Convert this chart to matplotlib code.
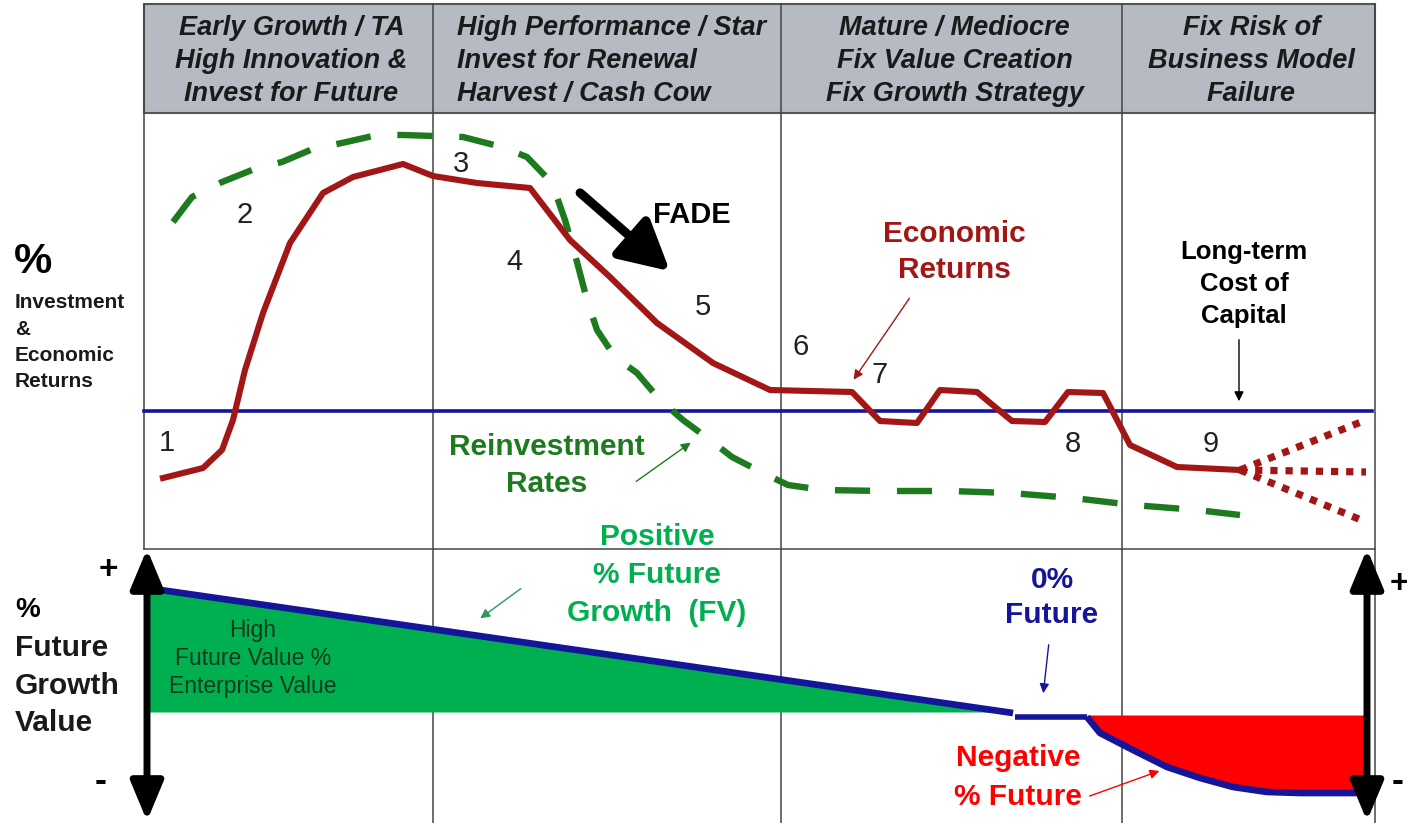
"""
Life-cycle chart: economic returns vs reinvestment rates and % future growth value.
Recreated as a schematic in image-like coordinates (x to the right, y downward).
"""

import numpy as np
import matplotlib

matplotlib.use("Agg")
import matplotlib.pyplot as plt
from matplotlib.patches import Rectangle

plt.rcParams["font.family"] = ["Liberation Sans", "DejaVu Sans"]

# ── data ────────────────────────────────────────────────────────────
stage_titles = [
    ["Early Growth / TA", "High Innovation &", "Invest for Future"],
    ["High Performance / Star", "Invest for Renewal", "Harvest / Cash Cow"],
    ["Mature / Mediocre", "Fix Value Creation", "Fix Growth Strategy"],
    ["Fix Risk of", "Business Model", "Failure"],
]
stage_edges = [144, 433, 781, 1122, 1375]

cost_of_capital = 411

econ_x = [163, 203, 222, 233, 245, 263, 290, 323, 353, 403, 433, 477, 530, 570,
          610, 657, 713, 770, 852, 880, 917, 940, 977, 1012, 1045, 1068, 1103,
          1130, 1177, 1240]
econ_y = [478, 468, 450, 420, 370, 313, 243, 193, 177, 164, 176, 183, 188, 240,
          277, 323, 363, 390, 392, 421, 423, 390, 392, 421, 422, 392, 393,
          445, 467, 470]

# three possible futures after point 9
fan_x = [1240, 1366]
fan_y_up = [470, 420]
fan_y_mid = [470, 472]
fan_y_down = [470, 522]

reinv_x = [173, 192, 222, 257, 282, 315, 342, 377, 403, 433, 463, 502, 527, 552,
           565, 577, 587, 597, 615, 637, 660, 683, 710, 732, 763, 788, 823, 885,
           950, 1010, 1073, 1133, 1197, 1240]
reinv_y = [222, 197, 182, 168, 162, 148, 143, 135, 135, 136, 137, 147, 157, 183,
           220, 262, 300, 330, 357, 373, 400, 420, 440, 457, 473, 485, 490, 491,
           491, 493, 498, 505, 510, 515]

stage_numbers = ["1", "2", "3", "4", "5", "6", "7", "8", "9"]
number_x = [167, 245, 461, 514, 703, 801, 880, 1073, 1211]
number_y = [443, 215, 164, 262, 307, 347, 375, 444, 444]

fv_x = [147, 1013, 1015, 1087, 1100, 1133, 1167, 1200, 1233, 1267, 1300, 1365]
fv_y = [588, 713, 717, 717, 733, 750, 767, 778, 787, 792, 793, 793]
fv_zero = 712
neg_top = 715

# ── colours ─────────────────────────────────────────────────────────
HEADER_BG = "#b6bac2"
RED = "#a31616"
GREEN_DARK = "#1e7a1e"
GREEN = "#00b050"
NAVY = "#15159a"
BRIGHT_RED = "#ff0000"

fig = plt.figure(figsize=(14.07, 8.23), dpi=100)
ax = fig.add_axes([0, 0, 1, 1])
ax.set_xlim(0, 1407)
ax.set_ylim(823, 0)
ax.axis("off")

# ── header and grid ─────────────────────────────────────────────────
left, right = stage_edges[0], stage_edges[-1]
ax.add_patch(Rectangle((left, 4), right - left, 109, facecolor=HEADER_BG,
                       edgecolor="#555555", lw=1.5, zorder=1))
for i, lines in enumerate(stage_titles):
    if i == 1:
        xc, ha = 457, "left"
    else:
        xc, ha = (stage_edges[i] + stage_edges[i + 1]) / 2 + 3, "center"
    for j, line in enumerate(lines):
        ax.text(xc, 28 + 33 * j, line, ha=ha, va="center", fontsize=19.5,
                fontweight="bold", fontstyle="italic", color="#1a1a1a", zorder=3)

for xe in stage_edges[1:-1]:
    ax.plot([xe, xe], [4, 823], color="#444444", lw=1.1, zorder=2)
ax.plot([right, right], [4, 823], color="#444444", lw=1.1, zorder=2)
ax.plot([left, left], [4, 549], color="#444444", lw=1.1, zorder=2)
ax.plot([left, right], [549, 549], color="#444444", lw=1.1, zorder=2)

# ── top panel ───────────────────────────────────────────────────────
ax.plot([left, 1372], [cost_of_capital, cost_of_capital], color=NAVY, lw=2.6, zorder=4)

ax.plot(reinv_x, reinv_y, color=GREEN_DARK, lw=4.6, linestyle=(0, (5.5, 4.2)),
        dash_capstyle="butt", zorder=5)
ax.plot(econ_x, econ_y, color=RED, lw=4.4, solid_joinstyle="round", zorder=6)
for fy in (fan_y_up, fan_y_mid, fan_y_down):
    ax.plot(fan_x, fy, color=RED, lw=5.2, linestyle=(0, (1, 1.1)),
            dash_capstyle="butt", zorder=6)

for s, xn, yn in zip(stage_numbers, number_x, number_y):
    ax.text(xn, yn, s, ha="center", va="center", fontsize=21, color="#222222", zorder=7)

ax.text(692, 215, "FADE", ha="center", va="center", fontsize=21,
        fontweight="bold", color="black", zorder=7)
ax.annotate("", xy=(672, 273), xytext=(578, 191),
            arrowprops=dict(arrowstyle="-|>,head_length=1.5,head_width=0.8",
                            lw=6.5, color="black", mutation_scale=20), zorder=7)

ax.text(954, 234, "Economic", ha="center", va="center", fontsize=21.5,
        fontweight="bold", color=RED, zorder=7)
ax.text(954, 270, "Returns", ha="center", va="center", fontsize=21.5,
        fontweight="bold", color=RED, zorder=7)
ax.annotate("", xy=(852, 382), xytext=(911, 296),
            arrowprops=dict(arrowstyle="-|>", lw=1.0, color=RED,
                            mutation_scale=14), zorder=7)

for j, line in enumerate(["Long-term", "Cost of", "Capital"]):
    ax.text(1244, 252 + 32 * j, line, ha="center", va="center", fontsize=18.5,
            fontweight="bold", color="black", zorder=7)
ax.annotate("", xy=(1239, 404), xytext=(1239, 337),
            arrowprops=dict(arrowstyle="-|>", lw=1.0, color="black",
                            mutation_scale=14), zorder=7)

ax.text(547, 447, "Reinvestment", ha="center", va="center", fontsize=21.5,
        fontweight="bold", color=GREEN_DARK, zorder=7)
ax.text(547, 484, "Rates", ha="center", va="center", fontsize=21.5,
        fontweight="bold", color=GREEN_DARK, zorder=7)
ax.annotate("", xy=(693, 441), xytext=(634, 483),
            arrowprops=dict(arrowstyle="-|>", lw=1.0, color=GREEN_DARK,
                            mutation_scale=14), zorder=7)

# left axis labels (top)
ax.text(14, 262, "%", ha="left", va="center", fontsize=31, fontweight="bold", zorder=7)
for j, line in enumerate(["Investment", "&", "Economic", "Returns"]):
    ax.text(15, 303 + 26 * j, line, ha="left", va="center", fontsize=15,
            fontweight="bold", color="#1a1a1a", zorder=7)

# ── bottom panel ────────────────────────────────────────────────────
fx = np.array(fv_x[:2], dtype=float)
fy = np.array(fv_y[:2], dtype=float)
x_cross = np.interp(fv_zero, fy, fx)
gx = np.linspace(fx[0], x_cross, 50)
gy = np.interp(gx, fx, fy)
ax.fill_between(gx, gy, fv_zero, color=GREEN, lw=0, zorder=3)

nx = np.array(fv_x[3:], dtype=float)
ny = np.array(fv_y[3:], dtype=float)
ax.fill_between(nx, neg_top, ny, color=BRIGHT_RED, lw=0, zorder=3)

ax.plot(fv_x[:2], fv_y[:2], color=NAVY, lw=4.8, solid_capstyle="butt", zorder=4)
ax.plot(fv_x[2:4], fv_y[2:4], color=NAVY, lw=4.0, solid_capstyle="butt", zorder=4)
ax.plot(fv_x[3:], fv_y[3:], color=NAVY, lw=4.8, solid_capstyle="butt", zorder=4)

for xa in (147, 1367):
    ax.annotate("", xy=(xa, 549), xytext=(xa, 821),
                arrowprops=dict(arrowstyle="<|-|>,head_length=1.2,head_width=0.5",
                                lw=5, color="black", mutation_scale=20,
                                shrinkA=0, shrinkB=0), zorder=8)

ax.text(108, 570, "+", ha="center", va="center", fontsize=24, fontweight="bold", zorder=7)
ax.text(101, 781, "-", ha="center", va="center", fontsize=26, fontweight="bold", zorder=7)
ax.text(1390, 584, "+", ha="left", va="center", fontsize=24, fontweight="bold", zorder=7)
ax.text(1392, 781, "-", ha="left", va="center", fontsize=26, fontweight="bold", zorder=7)

ax.text(15, 610, "%", ha="left", va="center", fontsize=20, fontweight="bold", zorder=7)
for j, line in enumerate(["Future", "Growth", "Value"]):
    ax.text(15, 648 + 37.5 * j, line, ha="left", va="center", fontsize=21.5,
            fontweight="bold", color="#1a1a1a", zorder=7)

for j, line in enumerate(["High", "Future Value %", "Enterprise Value"]):
    ax.text(253, 630 + 28.5 * j, line, ha="center", va="center", fontsize=16.5,
            color="#0f3a1c", zorder=7)

for j, line in enumerate(["Positive", "% Future", "Growth  (FV)"]):
    ax.text(657, 537 + 38 * j, line, ha="center", va="center", fontsize=21.5,
            fontweight="bold", color=GREEN, zorder=7)
ax.annotate("", xy=(478, 620), xytext=(523, 587),
            arrowprops=dict(arrowstyle="-|>", lw=1.0, color="#2a9a5a",
                            mutation_scale=14), zorder=7)

ax.text(1052, 580, "0%", ha="center", va="center", fontsize=21.5,
        fontweight="bold", color=NAVY, zorder=7)
ax.text(1052, 615, "Future", ha="center", va="center", fontsize=21.5,
        fontweight="bold", color=NAVY, zorder=7)
ax.annotate("", xy=(1043, 696), xytext=(1049, 642),
            arrowprops=dict(arrowstyle="-|>", lw=1.0, color=NAVY,
                            mutation_scale=14), zorder=7)

ax.text(1018, 758, "Negative", ha="center", va="center", fontsize=21.5,
        fontweight="bold", color=BRIGHT_RED, zorder=7)
ax.text(1018, 797, "% Future", ha="center", va="center", fontsize=21.5,
        fontweight="bold", color=BRIGHT_RED, zorder=7)
ax.annotate("", xy=(1162, 770), xytext=(1087, 797),
            arrowprops=dict(arrowstyle="-|>", lw=1.0, color=BRIGHT_RED,
                            mutation_scale=14), zorder=7)

fig.savefig("out.png", dpi=100, facecolor="white")
